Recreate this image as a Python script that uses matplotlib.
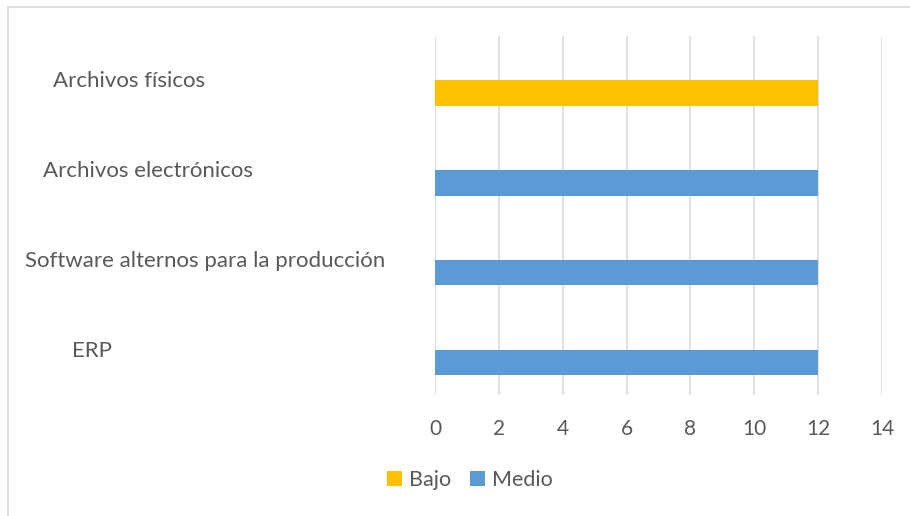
import matplotlib
matplotlib.use("Agg")
import matplotlib.pyplot as plt
from matplotlib.patches import Patch, Rectangle
import numpy as np

categories = ["Archivos físicos", "Archivos electrónicos",
              "Software alternos para la producción", "ERP"]
bajo = [12, 0, 0, 0]
medio = [0, 12, 12, 12]
series_names = ["Bajo", "Medio"]
xticks = [0, 2, 4, 6, 8, 10, 12, 14]

C_BAJO = "#FFC000"
C_MEDIO = "#5B9BD5"
TXT = "#595959"
GRID = "#D9D9D9"
FONT = "Lato"

W, H = 910, 516
fig = plt.figure(figsize=(W / 100, H / 100), dpi=100)
fig.patch.set_facecolor("white")

ax = fig.add_axes([435 / W, 1 - 395 / H, (882 - 435) / W, (395 - 35.5) / H])
ypos = np.arange(len(categories))
off = 0.139
hgt = 0.285
ax.barh(ypos + off, bajo, height=hgt, color=C_BAJO, zorder=3)
ax.barh(ypos + off, medio, height=hgt, color=C_MEDIO, zorder=3)
ax.set_xlim(0, 14)
ax.set_ylim(len(categories) - 0.5, -0.5)
ax.set_xticks(xticks)
ax.set_xticklabels([str(t) for t in xticks], fontsize=15, color=TXT, family=FONT)
ax.tick_params(axis="x", length=0, pad=17)
ax.set_yticks([])
for s in ax.spines.values():
    s.set_visible(False)
ax.grid(axis="x", color=GRID, linewidth=1.1, zorder=0)

label_left = [53, 43, 25, 72]
tr = matplotlib.transforms.blended_transform_factory(fig.transFigure, ax.transData)
for i, (cat, lx) in enumerate(zip(categories, label_left)):
    ax.text(lx / W, ypos[i] + 0.01, cat, transform=tr,
            ha="left", va="center", fontsize=16, color=TXT, family=FONT)

handles = [Patch(facecolor=C_BAJO, edgecolor="none"), Patch(facecolor=C_MEDIO, edgecolor="none")]
fig.legend(handles, series_names, loc="center", bbox_to_anchor=(470 / W, 1 - 480 / H),
           ncol=2, frameon=False, prop={"family": FONT, "size": 15.5},
           handlelength=0.7, handleheight=0.7, handletextpad=0.3, columnspacing=0.9,
           labelcolor=TXT)

fig.patches.append(Rectangle((7.5 / W, 1 - 520 / H), (915 - 7.5) / W, (520 - 6.5) / H,
                             transform=fig.transFigure, fill=False, edgecolor=GRID, linewidth=1.2))

fig.savefig("out.png", dpi=100)
